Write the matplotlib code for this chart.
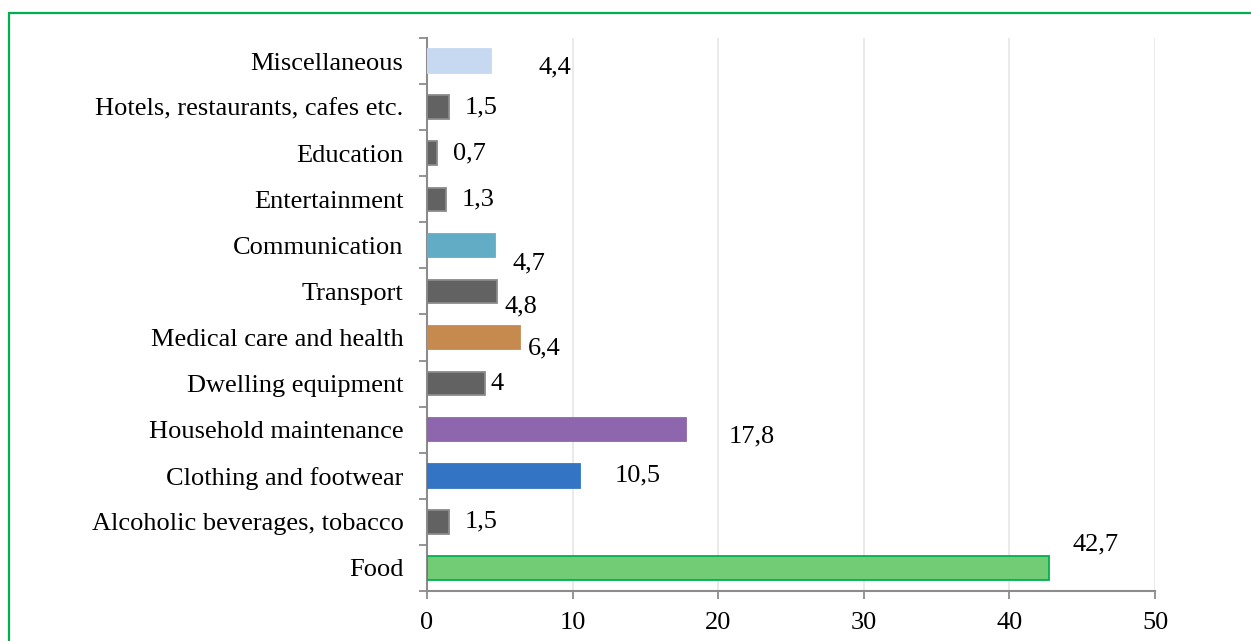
import matplotlib
matplotlib.use("Agg")
import matplotlib.pyplot as plt
from matplotlib.patches import Rectangle
from matplotlib.ticker import FixedLocator

# Structure of household consumption expenditure, %
categories = [
    "Food",
    "Alcoholic beverages, tobacco",
    "Clothing and footwear",
    "Household maintenance",
    "Dwelling equipment",
    "Medical care and health",
    "Transport",
    "Communication",
    "Entertainment",
    "Education",
    "Hotels, restaurants, cafes etc.",
    "Miscellaneous",
]
values = [42.7, 1.5, 10.5, 17.8, 4.0, 6.4, 4.8, 4.7, 1.3, 0.7, 1.5, 4.4]
value_labels = ["42,7", "1,5", "10,5", "17,8", "4", "6,4", "4,8", "4,7", "1,3", "0,7", "1,5", "4,4"]
x_ticks = [0, 10, 20, 30, 40, 50]

GRAY = "#626262"
face_colors = ["#72CB75", GRAY, "#3375C4", "#8E66AE", GRAY, "#C68A4F",
               GRAY, "#62ACC6", GRAY, GRAY, GRAY, "#C6D9F1"]
edge_colors = ["#00B050", "#8A8A8A", "#3375C4", "#8E66AE", "#8A8A8A", "#C68A4F",
               "#8A8A8A", "#62ACC6", "#8A8A8A", "#8A8A8A", "#8A8A8A", "#C6D9F1"]
# label offsets from the bar end, in pixels (dx right, dy up)
label_offsets = [(47, 24), (32, 0), (58, 0), (66, -7), (12, 0), (24, -11),
                 (24, -15), (34, -18), (32, 0), (32, 0), (32, 0), (64, -6)]

plt.rcParams["font.family"] = ["Liberation Serif", "DejaVu Serif"]
FS = 19

fig = plt.figure(figsize=(12.51, 6.41), dpi=100)
ax = fig.add_axes([427 / 1251, 1 - 591 / 641, 728 / 1251, 553 / 641])

ypos = list(range(len(categories)))
ax.barh(ypos, values, height=0.51, color=face_colors, edgecolor=edge_colors,
        linewidth=1.3, zorder=3)

for y, v, lab, (dx, dy) in zip(ypos, values, value_labels, label_offsets):
    ax.annotate(lab, xy=(v, y), xytext=(dx, dy), textcoords="offset pixels",
                ha="center", va="center", fontsize=FS, color="black")

ax.set_xlim(0, 50)
ax.set_ylim(-0.5, len(categories) - 0.5)
ax.set_xticks(x_ticks)
ax.set_xticklabels([str(t) for t in x_ticks], fontsize=FS)
ax.set_yticks(ypos)
ax.set_yticklabels(categories, fontsize=FS)
ax.yaxis.set_minor_locator(FixedLocator([i - 0.5 for i in range(len(categories) + 1)]))

axis_color = "#8C8C8C"
ax.tick_params(axis="y", which="major", length=0, pad=17)
ax.tick_params(axis="y", which="minor", length=6, width=1.3, color=axis_color)
ax.tick_params(axis="x", which="major", length=6, width=1.3, color=axis_color, pad=9)

for side in ("top", "right"):
    ax.spines[side].set_visible(False)
for side in ("left", "bottom"):
    ax.spines[side].set_color(axis_color)
    ax.spines[side].set_linewidth(1.5)

ax.xaxis.grid(True, color="#E6E6E6", linewidth=1.2, zorder=0)
ax.set_axisbelow(True)

# green frame around the chart area
fig.patches.append(Rectangle((9 / 1251, -0.1), 1.2, 1 - 13 / 641 + 0.1,
                             transform=fig.transFigure, fill=False,
                             edgecolor="#00B050", linewidth=1.6, clip_on=False))

fig.savefig("out.png", dpi=100)
